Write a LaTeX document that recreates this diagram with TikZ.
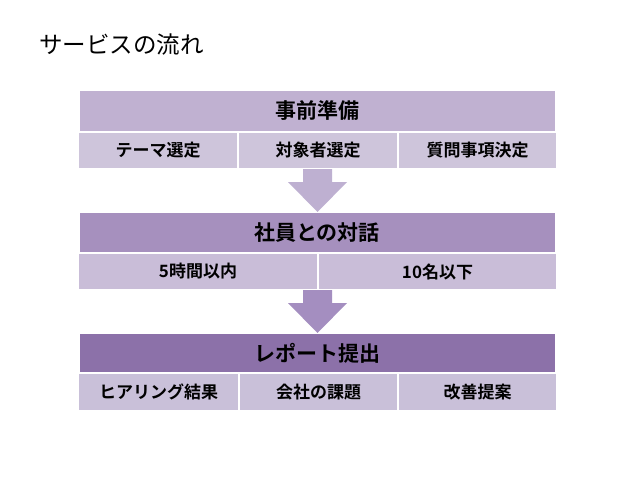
\documentclass[tikz,border=0pt]{standalone}
\usepackage{fontspec}
\setmainfont{Noto Sans CJK JP}
\newfontfamily\jpbold{Noto Sans CJK JP Bold}
\definecolor{hA}{HTML}{C0B1D1}
\definecolor{sA}{HTML}{CEC5DB}
\definecolor{hB}{HTML}{A690BE}
\definecolor{sB}{HTML}{C9BDD8}
\definecolor{hC}{HTML}{8C71A9}
\definecolor{sC}{HTML}{C9C0D9}
\definecolor{arA}{HTML}{BEB0D1}
\definecolor{arB}{HTML}{A48EC0}
\tikzset{
  hdr/.style={draw=white, line width=0.8pt, inner sep=0pt, text=black, font=\jpbold\fontsize{21}{21}\selectfont},
  cell/.style={draw=white, line width=1.2pt, inner sep=0pt, text=black, font=\jpbold\fontsize{17}{17}\selectfont},
}
\begin{document}
\begin{tikzpicture}[x=1pt,y=-1pt]
\useasboundingbox[fill=white] (0,0) rectangle (640,480);
\node[anchor=west, font=\fontsize{23.5}{23.5}\selectfont, inner sep=0pt] (title) at (39,45) {サービスの流れ};
% block 1
\node[hdr, fill=hA, minimum width=476pt, minimum height=42pt] (h1) at (317,111) {事前準備};
\node[cell, fill=sA, minimum width=160pt, minimum height=37pt] (c11) at (158,150.5) {テーマ選定};
\node[cell, fill=sA, minimum width=160pt, minimum height=37pt] (c12) at (318,150.5) {対象者選定};
\node[cell, fill=sA, minimum width=159pt, minimum height=37pt] (c13) at (477.5,150.5) {質問事項決定};
% arrow 1
\fill[arA] (303,169) -- (332,169) -- (332,182) -- (347,182) -- (317.5,212) -- (288,182) -- (303,182) -- cycle;
% block 2
\node[hdr, fill=hB, minimum width=476pt, minimum height=41pt] (h2) at (317,232.5) {社員との対話};
\node[cell, fill=sB, minimum width=240pt, minimum height=37pt] (c21) at (198,271.5) {5時間以内};
\node[cell, fill=sB, minimum width=239pt, minimum height=37pt] (c22) at (437.5,271.5) {10名以下};
% arrow 2
\fill[arB] (303,290) -- (332,290) -- (332,303) -- (347,303) -- (317.5,333) -- (288,303) -- (303,303) -- cycle;
% block 3
\node[hdr, fill=hC, minimum width=476pt, minimum height=40pt] (h3) at (317,353) {レポート提出};
\node[cell, fill=sC, minimum width=161pt, minimum height=38pt] (c31) at (158.5,392) {ヒアリング結果};
\node[cell, fill=sC, minimum width=159pt, minimum height=38pt] (c32) at (318.5,392) {会社の課題};
\node[cell, fill=sC, minimum width=159pt, minimum height=38pt] (c33) at (477.5,392) {改善提案};
\end{tikzpicture}
\end{document}
